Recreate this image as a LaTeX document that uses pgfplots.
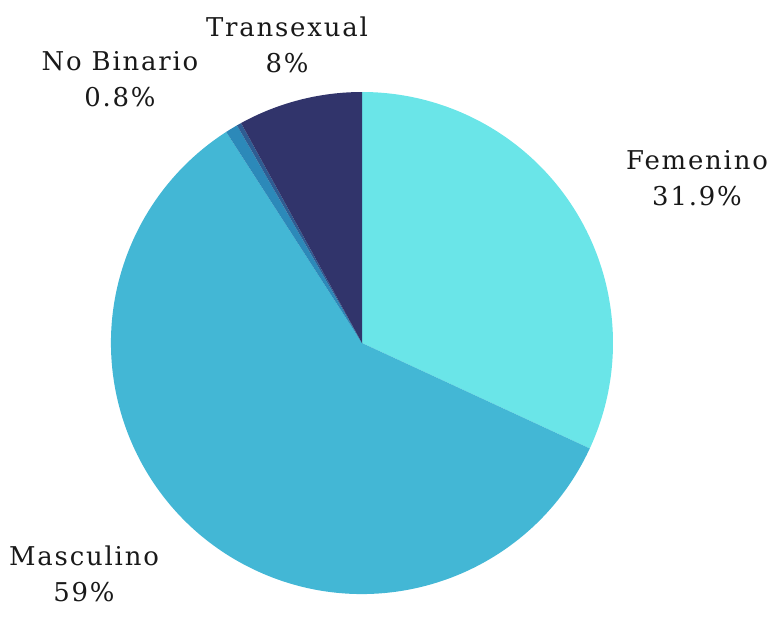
\documentclass[border=0pt]{standalone}
\usepackage{fontspec}
\setmainfont{DejaVu Serif}[LetterSpace=7]
\usepackage{pgfplots}
\usepackage{pgfplotstable}
\pgfplotsset{compat=1.18}
\definecolor{cFem}{HTML}{6AE5E8}
\definecolor{cMas}{HTML}{43B7D5}
\definecolor{cNoB}{HTML}{2C89B9}
\definecolor{cOtr}{HTML}{2E5D93}
\definecolor{cTra}{HTML}{31346B}
\pgfplotstableread{
label value color
Femenino 31.9 cFem
Masculino 59 cMas
NoBinario 0.8 cNoB
Otro 0.3 cOtr
Transexual 8 cTra
}\datatable
\begin{document}
\begin{tikzpicture}
\begin{axis}[
  width=772bp, height=606bp, scale only axis,
  xmin=0, xmax=772, ymin=0, ymax=606,
  hide axis, clip=false,
]
\path (axis cs:0,0) rectangle (axis cs:772,606);
\xdef\cum{90}
\pgfplotsforeachungrouped \i in {0,...,4}{%
  \pgfplotstablegetelem{\i}{value}\of\datatable \let\v\pgfplotsretval
  \pgfplotstablegetelem{\i}{color}\of\datatable \let\c\pgfplotsretval
  \pgfmathsetmacro\endang{\cum - 3.6*\v}%
  \edef\temp{\noexpand\fill[\c] (axis cs:362,263) -- ++(\cum:251bp) arc[start angle=\cum, end angle=\endang, radius=251bp] -- cycle;}%
  \temp
  \xdef\cum{\endang}%
}
\begin{scope}[every node/.style={align=center, font=\fontsize{26}{36}\selectfont, text=black!90, inner sep=0pt}]
\node at (axis cs:287,561) {Transexual\\8\%};
\node at (axis cs:120,527) {No Binario\\0.8\%};
\node at (axis cs:697,428) {Femenino\\31.9\%};
\node at (axis cs:84,32) {Masculino\\59\%};
\end{scope}
\end{axis}
\end{tikzpicture}
\end{document}
